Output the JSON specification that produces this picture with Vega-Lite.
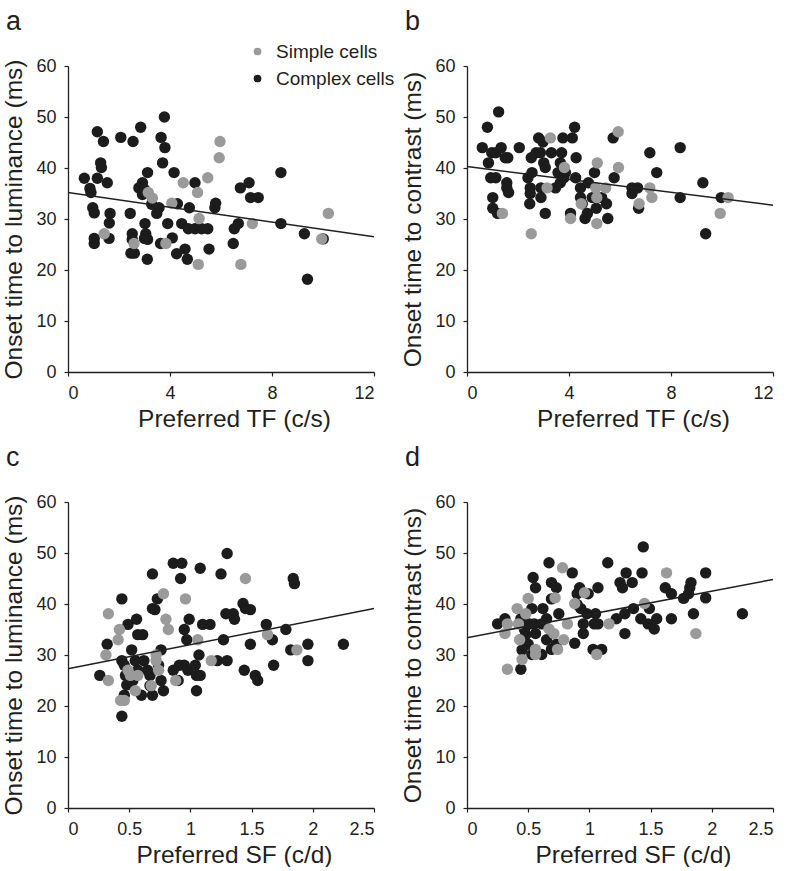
{
"$schema": "https://vega.github.io/schema/vega-lite/v6.json",
"background": "white",
"padding": {"left": 1, "top": 8, "right": 0, "bottom": 0},
"config": {
 "view": {"stroke": null},
 "font": "Liberation Sans",
 "axis": {"grid": false, "domainColor": "#231f20", "domainWidth": 1.3, "tickColor": "#231f20", "tickSize": 4, "tickWidth": 1.2, "labelFont": "Liberation Sans", "labelFontSize": 18, "labelColor": "#231f20", "labelPadding": 8, "titleFont": "Liberation Sans", "titleFontSize": 24.5, "titleFontWeight": "normal", "titleColor": "#231f20"},
 "axisY": {"titlePadding": 9},
 "axisX": {"titlePadding": 5, "titleX": 166},
 "title": {"fontSize": 27, "fontWeight": "normal", "anchor": "start", "frame": "bounds", "color": "#231f20", "font": "Liberation Sans", "offset": 21, "dx": 4},
 "legend": {"labelFont": "Liberation Sans", "labelFontSize": 19, "labelColor": "#231f20"}
},
"datasets": {
 "a": [
  {"x":0.64,"y":38,"c":"Complex cells"},{"x":0.86,"y":36,"c":"Complex cells"},{"x":0.9,"y":35.2,"c":"Complex cells"},{"x":0.97,"y":32.2,"c":"Complex cells"},{"x":1.03,"y":31.2,"c":"Complex cells"},{"x":1.03,"y":26.2,"c":"Complex cells"},{"x":1.03,"y":25.2,"c":"Complex cells"},{"x":1.15,"y":47.1,"c":"Complex cells"},{"x":1.28,"y":41,"c":"Complex cells"},{"x":1.31,"y":40.1,"c":"Complex cells"},{"x":1.15,"y":38,"c":"Complex cells"},{"x":1.39,"y":45.2,"c":"Complex cells"},{"x":1.54,"y":37.1,"c":"Complex cells"},{"x":1.65,"y":31.1,"c":"Complex cells"},{"x":1.62,"y":29.2,"c":"Complex cells"},{"x":1.61,"y":26.2,"c":"Complex cells"},{"x":2.07,"y":46,"c":"Complex cells"},{"x":2.44,"y":31.1,"c":"Complex cells"},{"x":2.55,"y":45.2,"c":"Complex cells"},{"x":2.52,"y":27.1,"c":"Complex cells"},{"x":2.52,"y":26,"c":"Complex cells"},{"x":2.47,"y":23.3,"c":"Complex cells"},{"x":2.6,"y":23.3,"c":"Complex cells"},{"x":2.85,"y":48,"c":"Complex cells"},{"x":2.78,"y":36.1,"c":"Complex cells"},{"x":2.92,"y":37.1,"c":"Complex cells"},{"x":3.0,"y":35.8,"c":"Complex cells"},{"x":2.92,"y":34.8,"c":"Complex cells"},{"x":3.12,"y":39.1,"c":"Complex cells"},{"x":3.02,"y":29.1,"c":"Complex cells"},{"x":3.05,"y":27.1,"c":"Complex cells"},{"x":3.0,"y":26.2,"c":"Complex cells"},{"x":3.12,"y":26,"c":"Complex cells"},{"x":3.11,"y":22.1,"c":"Complex cells"},{"x":3.28,"y":32.9,"c":"Complex cells"},{"x":3.48,"y":31.1,"c":"Complex cells"},{"x":3.57,"y":32.2,"c":"Complex cells"},{"x":3.65,"y":46,"c":"Complex cells"},{"x":3.63,"y":25.2,"c":"Complex cells"},{"x":3.78,"y":50,"c":"Complex cells"},{"x":3.8,"y":44,"c":"Complex cells"},{"x":3.71,"y":41,"c":"Complex cells"},{"x":3.91,"y":29.1,"c":"Complex cells"},{"x":4.09,"y":26.3,"c":"Complex cells"},{"x":4.16,"y":39.1,"c":"Complex cells"},{"x":4.29,"y":33,"c":"Complex cells"},{"x":4.46,"y":29.1,"c":"Complex cells"},{"x":4.26,"y":23.2,"c":"Complex cells"},{"x":4.59,"y":24.1,"c":"Complex cells"},{"x":4.68,"y":22.1,"c":"Complex cells"},{"x":4.76,"y":32.2,"c":"Complex cells"},{"x":4.98,"y":37.1,"c":"Complex cells"},{"x":4.72,"y":28.1,"c":"Complex cells"},{"x":4.98,"y":28.1,"c":"Complex cells"},{"x":5.24,"y":28.1,"c":"Complex cells"},{"x":5.48,"y":28.1,"c":"Complex cells"},{"x":5.53,"y":24.1,"c":"Complex cells"},{"x":5.79,"y":33.1,"c":"Complex cells"},{"x":5.76,"y":32.2,"c":"Complex cells"},{"x":6.48,"y":25.2,"c":"Complex cells"},{"x":6.52,"y":28.1,"c":"Complex cells"},{"x":6.68,"y":29.1,"c":"Complex cells"},{"x":6.76,"y":36.1,"c":"Complex cells"},{"x":7.1,"y":37.1,"c":"Complex cells"},{"x":7.16,"y":34.2,"c":"Complex cells"},{"x":7.46,"y":34.2,"c":"Complex cells"},{"x":8.35,"y":39.1,"c":"Complex cells"},{"x":8.35,"y":29.1,"c":"Complex cells"},{"x":9.27,"y":27.1,"c":"Complex cells"},{"x":9.39,"y":18.2,"c":"Complex cells"},{"x":10.01,"y":26.1,"c":"Complex cells"},
  {"x":1.42,"y":27.1,"c":"Simple cells"},{"x":2.59,"y":25.2,"c":"Simple cells"},{"x":3.15,"y":35.2,"c":"Simple cells"},{"x":3.31,"y":34.1,"c":"Simple cells"},{"x":4.07,"y":33.1,"c":"Simple cells"},{"x":3.84,"y":25.2,"c":"Simple cells"},{"x":4.52,"y":37.1,"c":"Simple cells"},{"x":5.08,"y":35.2,"c":"Simple cells"},{"x":5.14,"y":30.1,"c":"Simple cells"},{"x":5.11,"y":21.1,"c":"Simple cells"},{"x":5.48,"y":38.1,"c":"Simple cells"},{"x":5.96,"y":45.2,"c":"Simple cells"},{"x":5.93,"y":42,"c":"Simple cells"},{"x":6.78,"y":21.1,"c":"Simple cells"},{"x":7.23,"y":29.1,"c":"Simple cells"},{"x":9.95,"y":26.1,"c":"Simple cells"},{"x":10.21,"y":31.1,"c":"Simple cells"}
 ],
 "b": [
  {"x":0.6,"y":44,"c":"Complex cells"},{"x":0.8,"y":48,"c":"Complex cells"},{"x":0.84,"y":41,"c":"Complex cells"},{"x":0.97,"y":43,"c":"Complex cells"},{"x":1.13,"y":43,"c":"Complex cells"},{"x":1.34,"y":44,"c":"Complex cells"},{"x":0.93,"y":38.1,"c":"Complex cells"},{"x":1.13,"y":38.1,"c":"Complex cells"},{"x":1.24,"y":51,"c":"Complex cells"},{"x":1.5,"y":42,"c":"Complex cells"},{"x":1.6,"y":42,"c":"Complex cells"},{"x":1.56,"y":37.1,"c":"Complex cells"},{"x":1.56,"y":36.1,"c":"Complex cells"},{"x":1.63,"y":35.2,"c":"Complex cells"},{"x":1.01,"y":34.2,"c":"Complex cells"},{"x":1.01,"y":32.1,"c":"Complex cells"},{"x":1.2,"y":31.1,"c":"Complex cells"},{"x":2.05,"y":44,"c":"Complex cells"},{"x":2.39,"y":38.1,"c":"Complex cells"},{"x":2.52,"y":42,"c":"Complex cells"},{"x":2.55,"y":39.1,"c":"Complex cells"},{"x":2.48,"y":36.1,"c":"Complex cells"},{"x":2.48,"y":35,"c":"Complex cells"},{"x":2.46,"y":33,"c":"Complex cells"},{"x":2.71,"y":43,"c":"Complex cells"},{"x":2.81,"y":45.9,"c":"Complex cells"},{"x":2.98,"y":45.1,"c":"Complex cells"},{"x":2.88,"y":43,"c":"Complex cells"},{"x":3.01,"y":41,"c":"Complex cells"},{"x":3.07,"y":40.1,"c":"Complex cells"},{"x":2.9,"y":36.1,"c":"Complex cells"},{"x":2.9,"y":34.2,"c":"Complex cells"},{"x":3.07,"y":31.1,"c":"Complex cells"},{"x":3.31,"y":43,"c":"Complex cells"},{"x":3.47,"y":36.1,"c":"Complex cells"},{"x":3.57,"y":39.1,"c":"Complex cells"},{"x":3.66,"y":41,"c":"Complex cells"},{"x":3.71,"y":43,"c":"Complex cells"},{"x":3.76,"y":45.9,"c":"Complex cells"},{"x":3.66,"y":37.1,"c":"Complex cells"},{"x":3.8,"y":38.1,"c":"Complex cells"},{"x":3.86,"y":39.1,"c":"Complex cells"},{"x":4.13,"y":45.9,"c":"Complex cells"},{"x":4.22,"y":48,"c":"Complex cells"},{"x":4.28,"y":42,"c":"Complex cells"},{"x":4.26,"y":38.1,"c":"Complex cells"},{"x":4.45,"y":36.1,"c":"Complex cells"},{"x":4.45,"y":34.2,"c":"Complex cells"},{"x":4.52,"y":33,"c":"Complex cells"},{"x":4.06,"y":31.1,"c":"Complex cells"},{"x":4.76,"y":37.1,"c":"Complex cells"},{"x":4.72,"y":31.1,"c":"Complex cells"},{"x":4.63,"y":30.1,"c":"Complex cells"},{"x":5.0,"y":39.1,"c":"Complex cells"},{"x":4.91,"y":34.2,"c":"Complex cells"},{"x":5.07,"y":32.1,"c":"Complex cells"},{"x":5.28,"y":34.2,"c":"Complex cells"},{"x":5.47,"y":33,"c":"Complex cells"},{"x":5.52,"y":30.1,"c":"Complex cells"},{"x":5.77,"y":38.1,"c":"Complex cells"},{"x":5.73,"y":45.9,"c":"Complex cells"},{"x":6.47,"y":36.1,"c":"Complex cells"},{"x":6.47,"y":35,"c":"Complex cells"},{"x":6.69,"y":36.1,"c":"Complex cells"},{"x":6.73,"y":32.1,"c":"Complex cells"},{"x":7.17,"y":43,"c":"Complex cells"},{"x":7.44,"y":39.1,"c":"Complex cells"},{"x":8.36,"y":44,"c":"Complex cells"},{"x":8.36,"y":34.2,"c":"Complex cells"},{"x":9.25,"y":37.1,"c":"Complex cells"},{"x":9.36,"y":27.1,"c":"Complex cells"},{"x":9.97,"y":34.2,"c":"Complex cells"},
  {"x":1.39,"y":31.1,"c":"Simple cells"},{"x":2.52,"y":27.1,"c":"Simple cells"},{"x":3.14,"y":36.1,"c":"Simple cells"},{"x":3.27,"y":45.9,"c":"Simple cells"},{"x":3.82,"y":40.1,"c":"Simple cells"},{"x":4.06,"y":30.1,"c":"Simple cells"},{"x":4.48,"y":33,"c":"Simple cells"},{"x":5.11,"y":41,"c":"Simple cells"},{"x":5.05,"y":36.1,"c":"Simple cells"},{"x":5.09,"y":34.2,"c":"Simple cells"},{"x":5.09,"y":29.1,"c":"Simple cells"},{"x":5.44,"y":36.1,"c":"Simple cells"},{"x":5.93,"y":47.1,"c":"Simple cells"},{"x":5.94,"y":40.1,"c":"Simple cells"},{"x":6.75,"y":33,"c":"Simple cells"},{"x":7.17,"y":36.1,"c":"Simple cells"},{"x":7.25,"y":34.2,"c":"Simple cells"},{"x":9.93,"y":31.1,"c":"Simple cells"},{"x":10.24,"y":34.2,"c":"Simple cells"}
 ],
 "c": [
  {"x":0.26,"y":26,"c":"Complex cells"},{"x":0.32,"y":32.1,"c":"Complex cells"},{"x":0.44,"y":41,"c":"Complex cells"},{"x":0.44,"y":28.9,"c":"Complex cells"},{"x":0.46,"y":28,"c":"Complex cells"},{"x":0.47,"y":26,"c":"Complex cells"},{"x":0.48,"y":24.1,"c":"Complex cells"},{"x":0.46,"y":22.1,"c":"Complex cells"},{"x":0.44,"y":18,"c":"Complex cells"},{"x":0.49,"y":36,"c":"Complex cells"},{"x":0.52,"y":31,"c":"Complex cells"},{"x":0.53,"y":25,"c":"Complex cells"},{"x":0.55,"y":28.9,"c":"Complex cells"},{"x":0.56,"y":37,"c":"Complex cells"},{"x":0.57,"y":34,"c":"Complex cells"},{"x":0.57,"y":27,"c":"Complex cells"},{"x":0.6,"y":22.1,"c":"Complex cells"},{"x":0.61,"y":34,"c":"Complex cells"},{"x":0.62,"y":28.9,"c":"Complex cells"},{"x":0.65,"y":27,"c":"Complex cells"},{"x":0.67,"y":26,"c":"Complex cells"},{"x":0.67,"y":24,"c":"Complex cells"},{"x":0.69,"y":45.9,"c":"Complex cells"},{"x":0.69,"y":39.1,"c":"Complex cells"},{"x":0.71,"y":38.9,"c":"Complex cells"},{"x":0.69,"y":22.1,"c":"Complex cells"},{"x":0.73,"y":41,"c":"Complex cells"},{"x":0.74,"y":28,"c":"Complex cells"},{"x":0.76,"y":25,"c":"Complex cells"},{"x":0.76,"y":31,"c":"Complex cells"},{"x":0.78,"y":23,"c":"Complex cells"},{"x":0.86,"y":48,"c":"Complex cells"},{"x":0.93,"y":48,"c":"Complex cells"},{"x":0.92,"y":45,"c":"Complex cells"},{"x":0.86,"y":27,"c":"Complex cells"},{"x":0.9,"y":25,"c":"Complex cells"},{"x":0.91,"y":28,"c":"Complex cells"},{"x":0.95,"y":28,"c":"Complex cells"},{"x":0.95,"y":35,"c":"Complex cells"},{"x":0.97,"y":33,"c":"Complex cells"},{"x":0.98,"y":27,"c":"Complex cells"},{"x":0.99,"y":37,"c":"Complex cells"},{"x":1.04,"y":28,"c":"Complex cells"},{"x":1.05,"y":26,"c":"Complex cells"},{"x":1.08,"y":26,"c":"Complex cells"},{"x":1.05,"y":23,"c":"Complex cells"},{"x":1.07,"y":30,"c":"Complex cells"},{"x":1.08,"y":47,"c":"Complex cells"},{"x":1.1,"y":36,"c":"Complex cells"},{"x":1.16,"y":36,"c":"Complex cells"},{"x":1.22,"y":28.9,"c":"Complex cells"},{"x":1.25,"y":45.9,"c":"Complex cells"},{"x":1.27,"y":33,"c":"Complex cells"},{"x":1.29,"y":38.1,"c":"Complex cells"},{"x":1.3,"y":28.9,"c":"Complex cells"},{"x":1.3,"y":49.9,"c":"Complex cells"},{"x":1.35,"y":38.1,"c":"Complex cells"},{"x":1.36,"y":37,"c":"Complex cells"},{"x":1.44,"y":27,"c":"Complex cells"},{"x":1.43,"y":40.1,"c":"Complex cells"},{"x":1.45,"y":39.1,"c":"Complex cells"},{"x":1.49,"y":38.9,"c":"Complex cells"},{"x":1.49,"y":32.1,"c":"Complex cells"},{"x":1.53,"y":26,"c":"Complex cells"},{"x":1.55,"y":25,"c":"Complex cells"},{"x":1.62,"y":36,"c":"Complex cells"},{"x":1.67,"y":33,"c":"Complex cells"},{"x":1.68,"y":28,"c":"Complex cells"},{"x":1.78,"y":35,"c":"Complex cells"},{"x":1.82,"y":31,"c":"Complex cells"},{"x":1.84,"y":45,"c":"Complex cells"},{"x":1.85,"y":44,"c":"Complex cells"},{"x":1.96,"y":32.1,"c":"Complex cells"},{"x":1.96,"y":28.9,"c":"Complex cells"},{"x":2.25,"y":32.1,"c":"Complex cells"},
  {"x":0.33,"y":38.1,"c":"Simple cells"},{"x":0.31,"y":30,"c":"Simple cells"},{"x":0.33,"y":25,"c":"Simple cells"},{"x":0.42,"y":35,"c":"Simple cells"},{"x":0.41,"y":33,"c":"Simple cells"},{"x":0.43,"y":21.1,"c":"Simple cells"},{"x":0.46,"y":21.1,"c":"Simple cells"},{"x":0.49,"y":27,"c":"Simple cells"},{"x":0.51,"y":26,"c":"Simple cells"},{"x":0.57,"y":26,"c":"Simple cells"},{"x":0.55,"y":23,"c":"Simple cells"},{"x":0.68,"y":24,"c":"Simple cells"},{"x":0.72,"y":30,"c":"Simple cells"},{"x":0.72,"y":28.9,"c":"Simple cells"},{"x":0.74,"y":27,"c":"Simple cells"},{"x":0.78,"y":42,"c":"Simple cells"},{"x":0.8,"y":37,"c":"Simple cells"},{"x":0.82,"y":35,"c":"Simple cells"},{"x":0.88,"y":25,"c":"Simple cells"},{"x":0.96,"y":41,"c":"Simple cells"},{"x":1.06,"y":33,"c":"Simple cells"},{"x":1.17,"y":28.9,"c":"Simple cells"},{"x":1.45,"y":45,"c":"Simple cells"},{"x":1.63,"y":34,"c":"Simple cells"},{"x":1.87,"y":31,"c":"Simple cells"}
 ],
 "d": [
  {"x":0.25,"y":36.1,"c":"Complex cells"},{"x":0.31,"y":37.1,"c":"Complex cells"},{"x":0.44,"y":37.1,"c":"Complex cells"},{"x":0.44,"y":36.1,"c":"Complex cells"},{"x":0.47,"y":35,"c":"Complex cells"},{"x":0.48,"y":34,"c":"Complex cells"},{"x":0.44,"y":33,"c":"Complex cells"},{"x":0.5,"y":32.1,"c":"Complex cells"},{"x":0.45,"y":31,"c":"Complex cells"},{"x":0.44,"y":27.2,"c":"Complex cells"},{"x":0.53,"y":39.1,"c":"Complex cells"},{"x":0.54,"y":45.2,"c":"Complex cells"},{"x":0.56,"y":43.2,"c":"Complex cells"},{"x":0.51,"y":36.1,"c":"Complex cells"},{"x":0.55,"y":36.1,"c":"Complex cells"},{"x":0.56,"y":34.2,"c":"Complex cells"},{"x":0.53,"y":30.1,"c":"Complex cells"},{"x":0.61,"y":30.1,"c":"Complex cells"},{"x":0.61,"y":36.1,"c":"Complex cells"},{"x":0.62,"y":39.1,"c":"Complex cells"},{"x":0.65,"y":37.1,"c":"Complex cells"},{"x":0.65,"y":33,"c":"Complex cells"},{"x":0.67,"y":48.1,"c":"Complex cells"},{"x":0.69,"y":44.2,"c":"Complex cells"},{"x":0.69,"y":41,"c":"Complex cells"},{"x":0.73,"y":43.2,"c":"Complex cells"},{"x":0.69,"y":31.1,"c":"Complex cells"},{"x":0.73,"y":32.1,"c":"Complex cells"},{"x":0.75,"y":38.1,"c":"Complex cells"},{"x":0.86,"y":46.1,"c":"Complex cells"},{"x":0.88,"y":32.3,"c":"Complex cells"},{"x":0.9,"y":39.9,"c":"Complex cells"},{"x":0.92,"y":43.2,"c":"Complex cells"},{"x":0.9,"y":42,"c":"Complex cells"},{"x":0.93,"y":39.1,"c":"Complex cells"},{"x":0.95,"y":36.1,"c":"Complex cells"},{"x":0.95,"y":34.2,"c":"Complex cells"},{"x":0.99,"y":42,"c":"Complex cells"},{"x":0.98,"y":38.1,"c":"Complex cells"},{"x":1.05,"y":38.1,"c":"Complex cells"},{"x":1.04,"y":36.1,"c":"Complex cells"},{"x":1.07,"y":36.1,"c":"Complex cells"},{"x":1.07,"y":43.2,"c":"Complex cells"},{"x":1.03,"y":31.1,"c":"Complex cells"},{"x":1.1,"y":31.1,"c":"Complex cells"},{"x":1.15,"y":48.1,"c":"Complex cells"},{"x":1.22,"y":37.1,"c":"Complex cells"},{"x":1.25,"y":44.2,"c":"Complex cells"},{"x":1.27,"y":43.2,"c":"Complex cells"},{"x":1.3,"y":46.1,"c":"Complex cells"},{"x":1.29,"y":38.1,"c":"Complex cells"},{"x":1.29,"y":34.2,"c":"Complex cells"},{"x":1.35,"y":44.2,"c":"Complex cells"},{"x":1.36,"y":39.1,"c":"Complex cells"},{"x":1.44,"y":51.2,"c":"Complex cells"},{"x":1.43,"y":46.1,"c":"Complex cells"},{"x":1.42,"y":37.1,"c":"Complex cells"},{"x":1.49,"y":39.1,"c":"Complex cells"},{"x":1.48,"y":36.1,"c":"Complex cells"},{"x":1.53,"y":35.1,"c":"Complex cells"},{"x":1.55,"y":37.1,"c":"Complex cells"},{"x":1.62,"y":43.2,"c":"Complex cells"},{"x":1.67,"y":42,"c":"Complex cells"},{"x":1.67,"y":37.1,"c":"Complex cells"},{"x":1.77,"y":41.1,"c":"Complex cells"},{"x":1.81,"y":42,"c":"Complex cells"},{"x":1.82,"y":43.2,"c":"Complex cells"},{"x":1.83,"y":44.2,"c":"Complex cells"},{"x":1.85,"y":38.1,"c":"Complex cells"},{"x":1.95,"y":46.1,"c":"Complex cells"},{"x":1.95,"y":41.2,"c":"Complex cells"},{"x":2.25,"y":38.1,"c":"Complex cells"},
  {"x":0.31,"y":34.2,"c":"Simple cells"},{"x":0.33,"y":36.1,"c":"Simple cells"},{"x":0.33,"y":27.2,"c":"Simple cells"},{"x":0.41,"y":39.1,"c":"Simple cells"},{"x":0.42,"y":36.1,"c":"Simple cells"},{"x":0.43,"y":33,"c":"Simple cells"},{"x":0.45,"y":29.1,"c":"Simple cells"},{"x":0.48,"y":38.1,"c":"Simple cells"},{"x":0.5,"y":41.1,"c":"Simple cells"},{"x":0.56,"y":31.1,"c":"Simple cells"},{"x":0.56,"y":30.1,"c":"Simple cells"},{"x":0.67,"y":35.1,"c":"Simple cells"},{"x":0.71,"y":34.2,"c":"Simple cells"},{"x":0.72,"y":41.2,"c":"Simple cells"},{"x":0.74,"y":31.1,"c":"Simple cells"},{"x":0.79,"y":33,"c":"Simple cells"},{"x":0.78,"y":47.1,"c":"Simple cells"},{"x":0.82,"y":36.1,"c":"Simple cells"},{"x":0.88,"y":40.1,"c":"Simple cells"},{"x":0.96,"y":42.2,"c":"Simple cells"},{"x":1.06,"y":30.1,"c":"Simple cells"},{"x":1.16,"y":36.1,"c":"Simple cells"},{"x":1.45,"y":40.1,"c":"Simple cells"},{"x":1.63,"y":46.1,"c":"Simple cells"},{"x":1.87,"y":34.2,"c":"Simple cells"}
 ],
 "fits": [
  {"p":"a","x":0,"y":35.2},{"p":"a","x":12,"y":26.5},
  {"p":"b","x":0,"y":40.3},{"p":"b","x":12,"y":32.7},
  {"p":"c","x":0,"y":27.3},{"p":"c","x":2.5,"y":39.1},
  {"p":"d","x":0,"y":33.4},{"p":"d","x":2.5,"y":44.8}
 ]
},
"columns": 2,
"spacing": {"row": 130, "column": 93},
"bounds": "flush",
"concat": [
 {
  "title": {"text": "a"},
  "width": 306, "height": 306,
  "layer": [
   {"data": {"name": "a"},
    "mark": {"type": "circle", "size": 130, "opacity": 1},
    "encoding": {
     "x": {"field": "x", "type": "quantitative", "scale": {"domain": [0, 12], "nice": false}, "axis": {"values": [0, 4, 8, 12], "format": "~g", "title": "Preferred TF (c/s)"}},
     "y": {"field": "y", "type": "quantitative", "scale": {"domain": [0, 60], "nice": false}, "axis": {"values": [0, 10, 20, 30, 40, 50, 60], "title": "Onset time to luminance (ms)"}},
     "color": {"field": "c", "type": "nominal", "scale": {"domain": ["Simple cells", "Complex cells"], "range": ["#9a9a9a", "#1c1c1c"]},
      "legend": {"orient": "none", "legendX": 180, "legendY": -24, "title": null, "symbolType": "circle", "symbolSize": 60, "rowPadding": 7, "labelOffset": 9}}
    }},
   {"data": {"name": "fits"}, "transform": [{"filter": "datum.p == 'a'"}],
    "mark": {"type": "line", "color": "#231f20", "strokeWidth": 1.5},
    "encoding": {"x": {"field": "x", "type": "quantitative"}, "y": {"field": "y", "type": "quantitative"}}}
  ]
 },
 {
  "title": {"text": "b"},
  "width": 306, "height": 306,
  "layer": [
   {"data": {"name": "b"},
    "mark": {"type": "circle", "size": 130, "opacity": 1},
    "encoding": {
     "x": {"field": "x", "type": "quantitative", "scale": {"domain": [0, 12], "nice": false}, "axis": {"values": [0, 4, 8, 12], "format": "~g", "title": "Preferred TF (c/s)"}},
     "y": {"field": "y", "type": "quantitative", "scale": {"domain": [0, 60], "nice": false}, "axis": {"values": [0, 10, 20, 30, 40, 50, 60], "title": "Onset time to contrast (ms)"}},
     "color": {"field": "c", "type": "nominal"}
    }},
   {"data": {"name": "fits"}, "transform": [{"filter": "datum.p == 'b'"}],
    "mark": {"type": "line", "color": "#231f20", "strokeWidth": 1.5},
    "encoding": {"x": {"field": "x", "type": "quantitative"}, "y": {"field": "y", "type": "quantitative"}}}
  ]
 },
 {
  "title": {"text": "c"},
  "width": 306, "height": 306,
  "layer": [
   {"data": {"name": "c"},
    "mark": {"type": "circle", "size": 130, "opacity": 1},
    "encoding": {
     "x": {"field": "x", "type": "quantitative", "scale": {"domain": [0, 2.5], "nice": false}, "axis": {"values": [0, 0.5, 1, 1.5, 2, 2.5], "format": "~g", "title": "Preferred SF (c/d)"}},
     "y": {"field": "y", "type": "quantitative", "scale": {"domain": [0, 60], "nice": false}, "axis": {"values": [0, 10, 20, 30, 40, 50, 60], "title": "Onset time to luminance (ms)"}},
     "color": {"field": "c", "type": "nominal"}
    }},
   {"data": {"name": "fits"}, "transform": [{"filter": "datum.p == 'c'"}],
    "mark": {"type": "line", "color": "#231f20", "strokeWidth": 1.5},
    "encoding": {"x": {"field": "x", "type": "quantitative"}, "y": {"field": "y", "type": "quantitative"}}}
  ]
 },
 {
  "title": {"text": "d"},
  "width": 306, "height": 306,
  "layer": [
   {"data": {"name": "d"},
    "mark": {"type": "circle", "size": 130, "opacity": 1},
    "encoding": {
     "x": {"field": "x", "type": "quantitative", "scale": {"domain": [0, 2.5], "nice": false}, "axis": {"values": [0, 0.5, 1, 1.5, 2, 2.5], "format": "~g", "title": "Preferred SF (c/d)"}},
     "y": {"field": "y", "type": "quantitative", "scale": {"domain": [0, 60], "nice": false}, "axis": {"values": [0, 10, 20, 30, 40, 50, 60], "title": "Onset time to contrast (ms)"}},
     "color": {"field": "c", "type": "nominal"}
    }},
   {"data": {"name": "fits"}, "transform": [{"filter": "datum.p == 'd'"}],
    "mark": {"type": "line", "color": "#231f20", "strokeWidth": 1.5},
    "encoding": {"x": {"field": "x", "type": "quantitative"}, "y": {"field": "y", "type": "quantitative"}}}
  ]
 }
]
}
